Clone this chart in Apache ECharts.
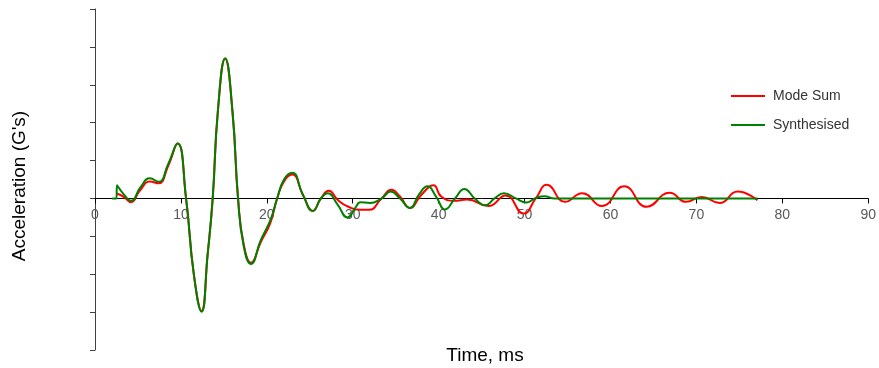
<!DOCTYPE html>
<html>
<head>
<meta charset="utf-8">
<script src="https://cdn.jsdelivr.net/npm/echarts@6/dist/echarts.min.js"></script>
<style>
html,body{margin:0;padding:0;background:#fff;}
#c{width:879px;height:368px;}
</style>
</head>
<body>
<div id="c"></div>
<script>
// Mode Sum (red)
const modeSumTime = [2.5,3.3,4.2,5.2,6.4,7.4,8.5,9.6,10.6,11.5,12.4,13.1,13.7,14.3,15.15,16.0,16.65,17.3,18.15,19.3,20.4,21.2,22.0,22.95,24.2,25.35,26.3,27.2,28.3,29.5,30.9,31.9,33.35,34.5,35.5,36.65,38.0,39.4,40.3,41.8,43.3,45.8,47.8,49.9,51.3,52.6,54.7,56.7,59.0,61.6,64.2,66.9,68.8,70.6,72.7,74.8,77.1];
const modeSumAcc  = [0.13,0.05,-0.1,0.2,0.45,0.40,0.85,1.45,0.0,-2.0,-2.97,-1.5,0.0,2.3,3.69,2.3,0.0,-1.2,-1.7,-1.15,-0.65,0.0,0.45,0.63,0.1,-0.33,0.0,0.2,-0.05,-0.22,-0.3,-0.3,0.0,0.23,0.05,-0.25,0.1,0.35,0.05,-0.06,-0.03,-0.2,0.08,-0.4,0.0,0.36,-0.09,0.14,-0.2,0.32,-0.22,0.15,-0.09,0.04,-0.12,0.18,-0.05];
// Synthesised (green)
const synthTime = [2.0,2.5,2.55,3.3,4.2,5.3,6.4,7.4,8.5,9.6,10.6,11.5,12.4,13.1,13.7,14.3,15.15,16.0,16.65,17.3,18.15,19.3,20.4,21.2,22.0,22.95,24.2,25.35,26.3,27.1,28.2,29.4,30.3,30.9,32.0,33.35,34.4,35.5,36.65,37.7,38.7,39.7,40.75,41.9,43.0,44.2,45.4,46.5,47.6,49.0,50.2,51.2,52.3,53.5,60.0,70.0,77.1];
const synthAcc  = [0.0,0.0,0.35,0.12,-0.06,0.3,0.53,0.44,0.9,1.45,0.0,-2.0,-2.99,-1.5,0.0,2.3,3.70,2.3,0.0,-1.25,-1.73,-1.1,-0.58,0.0,0.5,0.68,0.1,-0.33,0.0,0.14,-0.15,-0.5,-0.25,-0.1,-0.12,0.0,0.18,0.0,-0.25,0.1,0.32,0.05,-0.29,0.0,0.25,0.0,-0.18,0.0,0.14,0.0,-0.11,0.0,0.06,0.0,0.0,0.0,0.0];
const xTicks = [0,10,20,30,40,50,60,70,80,90];

const pair = (t, v) => t.map((x, i) => [x, v[i]]);
const chart = echarts.init(document.getElementById('c'));
const gridTop = 9, gridBottom = 18, H = 368;
const yMin = -4, yMax = 5;
const plotH = H - gridTop - gridBottom;
const zeroOffset = -(plotH * (0 - yMin) / (yMax - yMin));
chart.setOption({
  animation: false,
  backgroundColor: '#fff',
  grid: {left: 95, right: 6, top: gridTop, bottom: gridBottom},
  legend: {
    orient: 'vertical', left: 726, top: 84, itemWidth: 34, itemHeight: 2, itemGap: 15,
    icon: 'rect',
    textStyle: {fontFamily: 'Liberation Sans, Arial', fontSize: 14, color: '#333', padding: [0, 0, 0, 3]},
    data: ['Mode Sum', 'Synthesised']
  },
  xAxis: {
    type: 'value', min: xTicks[0], max: xTicks[xTicks.length - 1], interval: 10,
    position: 'bottom', offset: zeroOffset,
    axisLine: {onZero: false, lineStyle: {color: '#000', width: 1}},
    axisTick: {show: true, length: 5, lineStyle: {color: '#000'}},
    axisLabel: {color: '#595959', fontFamily: 'Liberation Sans, Arial', fontSize: 14, margin: 10},
    splitLine: {show: false}
  },
  yAxis: {
    type: 'value', min: yMin, max: yMax, interval: 1,
    axisLine: {show: true, lineStyle: {color: '#404040', width: 1}},
    axisTick: {show: true, length: 5, lineStyle: {color: '#404040'}},
    axisLabel: {show: false},
    splitLine: {show: false}
  },
  graphic: [
    {type: 'text', x: 485, y: 356, style: {text: 'Time, ms', fill: '#000', font: '19px "Liberation Sans", Arial', textAlign: 'center', textVerticalAlign: 'middle'}},
    {type: 'text', x: 20, y: 186, rotation: Math.PI / 2, style: {text: "Acceleration (G's)", fill: '#000', font: '19px "Liberation Sans", Arial', textAlign: 'center', textVerticalAlign: 'middle'}}
  ],
  series: [
    {name: 'Mode Sum', type: 'line', data: pair(modeSumTime, modeSumAcc), smooth: 0.5, showSymbol: false,
     lineStyle: {color: '#ff0000', width: 2}, itemStyle: {color: '#ff0000'}, z: 2},
    {name: 'Synthesised', type: 'line', data: pair(synthTime, synthAcc), smooth: 0.5, showSymbol: false,
     lineStyle: {color: '#008000', width: 2}, itemStyle: {color: '#008000'}, z: 3}
  ]
});
</script>
</body>
</html>
